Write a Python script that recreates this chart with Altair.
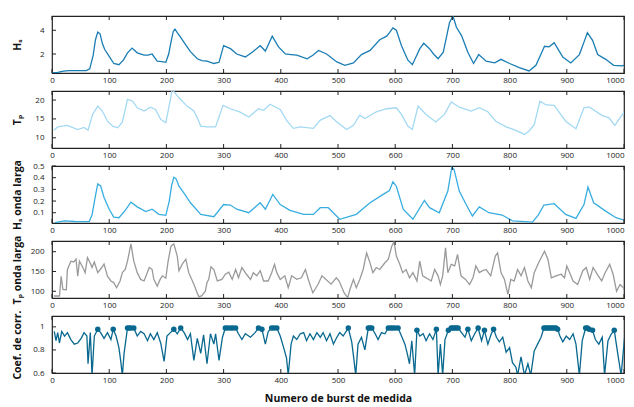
import altair as alt
import pandas as pd

# ---------------- data ----------------
x_ticks = [0, 100, 200, 300, 400, 500, 600, 700, 800, 900, 1000]

hs_x = [0, 10, 20, 30, 40, 50, 60, 66, 72, 76, 80, 84, 88, 92, 100, 108, 117, 125, 132, 140, 149, 161, 168, 175, 184, 192, 199, 204, 208, 212, 215, 219, 225, 232, 242, 254, 262, 271, 283, 292, 300, 312, 323, 338, 350, 364, 373, 385, 396, 408, 418, 428, 446, 456, 466, 480, 498, 512, 527, 541, 556, 573, 585, 590, 596, 602, 611, 622, 630, 643, 650, 660, 667, 675, 684, 690, 695, 701, 707, 716, 727, 737, 746, 759, 774, 785, 800, 817, 834, 846, 855, 861, 869, 878, 886, 893, 907, 922, 930, 936, 945, 954, 968, 982, 997, 1009]
hs_v = [0.4, 0.45, 0.55, 0.6, 0.6, 0.6, 0.6, 0.75, 1.9, 3.2, 3.85, 3.7, 2.9, 2.4, 1.8, 1.2, 1.1, 1.5, 2.1, 2.5, 2.1, 1.9, 1.9, 2.0, 1.4, 1.35, 1.3, 2.0, 3.0, 3.9, 4.1, 3.8, 3.4, 2.9, 2.2, 1.6, 1.45, 1.4, 1.2, 1.3, 2.7, 2.45, 2.0, 1.75, 2.15, 2.7, 2.25, 3.5, 2.6, 2.0, 1.95, 1.9, 1.6, 1.9, 2.3, 2.0, 1.33, 1.05, 1.25, 1.95, 2.3, 3.2, 3.5, 3.8, 4.2, 4.0, 2.7, 1.5, 1.1, 2.45, 2.9, 2.45, 2.0, 1.6, 2.15, 3.5, 4.65, 5.2, 4.25, 3.55, 2.15, 1.2, 1.95, 1.4, 1.25, 1.55, 1.2, 0.85, 0.57, 1.05, 2.0, 2.65, 2.6, 2.95, 2.3, 1.75, 1.25, 1.95, 3.0, 3.8, 3.15, 1.95, 1.55, 1.05, 1.0, 1.2]

tp_x = [3, 5, 10, 27, 45, 56, 63, 71, 80, 88, 97, 106, 115, 123, 132, 141, 149, 161, 172, 181, 190, 199, 207, 210, 222, 236, 248, 254, 260, 271, 286, 299, 312, 329, 344, 361, 370, 381, 399, 411, 422, 434, 457, 469, 486, 498, 515, 527, 538, 547, 567, 585, 602, 611, 622, 630, 640, 654, 671, 686, 698, 712, 733, 747, 762, 776, 794, 811, 826, 834, 843, 853, 864, 878, 898, 916, 930, 939, 962, 974, 984, 1000, 1009]
tp_v = [12.0, 12.2, 12.9, 13.3, 12.2, 12.75, 12.0, 16.2, 18.4, 17.1, 14.4, 13.1, 12.65, 14.2, 20.2, 19.7, 17.96, 17.1, 18.1, 17.5, 14.9, 14.0, 20.2, 22.8, 20.6, 18.4, 17.1, 15.3, 13.1, 12.9, 12.9, 18.6, 17.7, 16.8, 15.5, 17.7, 17.3, 18.9, 17.5, 14.4, 12.5, 12.9, 12.5, 14.7, 15.9, 14.2, 12.2, 13.3, 16.0, 15.1, 16.9, 17.7, 17.96, 16.2, 13.1, 12.2, 18.4, 16.2, 14.2, 16.2, 19.5, 18.1, 17.1, 17.96, 16.9, 14.4, 12.9, 11.96, 10.9, 11.8, 13.5, 19.7, 18.7, 18.6, 14.4, 12.4, 17.96, 18.2, 15.9, 15.3, 13.3, 16.8, 11.3]

hl_x = [5, 22, 40, 65, 70, 75, 80, 85, 91, 100, 108, 117, 128, 138, 149, 164, 175, 187, 199, 205, 209, 213, 217, 222, 232, 242, 260, 283, 300, 312, 323, 344, 364, 373, 386, 399, 416, 440, 457, 469, 483, 503, 532, 556, 579, 590, 596, 602, 614, 631, 651, 660, 677, 692, 699, 703, 712, 724, 735, 747, 764, 787, 805, 840, 850, 860, 878, 898, 916, 930, 937, 947, 968, 986, 1009]
hl_v = [0.015, 0.03, 0.025, 0.024, 0.08, 0.22, 0.347, 0.33, 0.23, 0.13, 0.063, 0.057, 0.12, 0.19, 0.15, 0.11, 0.13, 0.086, 0.078, 0.2, 0.33, 0.404, 0.39, 0.327, 0.26, 0.185, 0.086, 0.066, 0.17, 0.166, 0.13, 0.10, 0.185, 0.13, 0.257, 0.17, 0.12, 0.086, 0.086, 0.143, 0.143, 0.044, 0.086, 0.185, 0.257, 0.29, 0.364, 0.327, 0.13, 0.044, 0.206, 0.143, 0.10, 0.285, 0.49, 0.47, 0.285, 0.17, 0.072, 0.15, 0.10, 0.08, 0.03, 0.02, 0.08, 0.166, 0.177, 0.086, 0.052, 0.17, 0.32, 0.185, 0.114, 0.057, 0.024]

tpl_pairs = [(3, 88), (13, 88), (16, 138), (19, 105), (25, 104), (27, 155), (33, 176), (38, 174), (42, 181), (45, 138), (48, 176), (54, 160), (58, 147), (62, 185), (66, 174), (70, 160), (74, 174), (80, 147), (87, 160), (91, 169), (97, 138), (103, 126), (108, 122), (113, 109), (119, 126), (123, 147), (128, 155), (132, 176), (138, 220), (143, 176), (149, 147), (155, 130), (161, 126), (170, 160), (175, 155), (178, 130), (184, 113), (189, 130), (193, 139), (199, 133), (203, 176), (208, 214), (213, 220), (219, 189), (222, 152), (228, 169), (234, 181), (239, 147), (248, 118), (254, 95), (257, 86), (262, 89), (268, 100), (271, 122), (274, 130), (278, 162), (283, 155), (289, 126), (297, 130), (303, 143), (309, 148), (315, 130), (321, 155), (326, 134), (332, 160), (340, 143), (347, 130), (352, 147), (358, 139), (364, 152), (370, 126), (378, 126), (384, 147), (389, 168), (393, 147), (399, 130), (407, 139), (413, 109), (419, 139), (428, 130), (436, 134), (443, 155), (449, 126), (456, 96), (465, 117), (472, 139), (479, 130), (488, 118), (497, 134), (502, 126), (511, 95), (517, 84), (521, 105), (527, 130), (532, 109), (538, 130), (544, 155), (550, 197), (555, 176), (561, 147), (567, 160), (573, 155), (582, 172), (588, 181), (594, 214), (598, 225), (602, 189), (608, 168), (613, 147), (619, 155), (625, 134), (631, 147), (638, 126), (643, 176), (648, 139), (654, 134), (663, 126), (669, 155), (675, 139), (679, 117), (683, 139), (688, 210), (692, 147), (698, 168), (704, 164), (709, 193), (715, 139), (723, 130), (730, 117), (736, 134), (741, 164), (747, 147), (753, 152), (759, 155), (767, 139), (775, 189), (779, 197), (785, 147), (791, 130), (797, 92), (802, 130), (808, 126), (814, 155), (820, 139), (826, 160), (832, 126), (838, 109), (843, 147), (852, 176), (861, 201), (867, 181), (873, 134), (881, 139), (890, 143), (896, 134), (900, 164), (905, 147), (911, 126), (919, 117), (928, 152), (934, 160), (940, 130), (946, 160), (955, 139), (961, 126), (967, 147), (975, 168), (981, 143), (987, 100), (993, 117), (999, 109), (1004, 92), (1010, 105)]

coef_pairs = [(4, 0.96), (7, 0.88), (10, 0.95), (13, 0.86), (17, 0.96), (22, 0.92), (27, 0.95), (33, 0.89), (39, 0.85), (45, 0.86), (51, 0.90), (56, 0.95), (61, 0.92), (63, 0.68), (67, 0.95), (70, 0.58), (74, 0.92), (80, 0.98), (85, 0.95), (91, 0.90), (97, 0.95), (103, 0.89), (107, 0.98), (112, 0.92), (117, 0.82), (120, 0.71), (123, 0.58), (126, 0.77), (132, 0.99), (135, 0.99), (138, 0.99), (143, 0.99), (149, 0.92), (155, 0.96), (161, 0.94), (167, 0.88), (172, 0.94), (178, 0.89), (184, 0.95), (190, 0.86), (196, 0.70), (201, 0.92), (207, 0.95), (213, 0.98), (219, 0.94), (225, 0.99), (231, 0.95), (237, 0.89), (242, 0.94), (248, 0.71), (254, 0.90), (260, 0.77), (265, 0.93), (271, 0.68), (277, 0.94), (283, 0.85), (286, 0.94), (292, 0.71), (298, 0.91), (303, 0.99), (307, 0.99), (312, 0.99), (316, 0.99), (321, 0.99), (326, 0.94), (332, 0.89), (338, 0.94), (347, 0.91), (355, 0.95), (361, 0.99), (367, 0.98), (373, 0.85), (378, 0.96), (384, 0.99), (388, 0.99), (393, 0.99), (399, 0.92), (405, 0.82), (410, 0.73), (413, 0.58), (418, 0.85), (422, 0.92), (428, 0.89), (434, 0.94), (440, 0.95), (445, 0.88), (451, 0.94), (457, 0.89), (463, 0.95), (469, 0.91), (474, 0.95), (480, 0.88), (486, 0.94), (492, 0.85), (498, 0.91), (503, 0.95), (509, 0.92), (518, 0.99), (524, 0.87), (528, 0.71), (531, 0.58), (535, 0.85), (541, 0.91), (547, 0.80), (553, 0.99), (556, 0.99), (559, 0.99), (565, 0.94), (570, 0.89), (576, 0.95), (582, 0.94), (588, 0.99), (592, 0.99), (596, 0.99), (600, 0.99), (605, 0.99), (611, 0.92), (617, 0.85), (621, 0.77), (625, 0.68), (629, 0.88), (634, 0.58), (638, 0.97), (643, 0.92), (649, 0.94), (654, 0.88), (660, 0.94), (666, 0.89), (672, 0.98), (675, 0.58), (679, 0.85), (683, 0.58), (687, 0.89), (693, 0.97), (698, 0.99), (701, 0.99), (704, 0.99), (707, 0.99), (710, 0.99), (716, 0.95), (722, 0.91), (727, 0.98), (733, 0.88), (739, 0.94), (745, 0.99), (751, 0.88), (756, 0.97), (762, 0.85), (768, 0.94), (772, 0.98), (777, 0.91), (782, 0.87), (788, 0.91), (794, 0.78), (800, 0.82), (805, 0.69), (811, 0.65), (814, 0.58), (820, 0.74), (826, 0.58), (832, 0.68), (837, 0.58), (843, 0.79), (849, 0.85), (855, 0.91), (860, 0.99), (863, 0.99), (866, 0.99), (869, 0.99), (872, 0.99), (875, 0.99), (878, 0.99), (881, 0.99), (884, 0.98), (888, 0.92), (893, 0.87), (899, 0.92), (905, 0.89), (911, 0.94), (916, 0.85), (922, 0.58), (927, 0.88), (933, 0.99), (936, 0.99), (939, 0.98), (945, 0.97), (950, 0.89), (956, 0.85), (962, 0.91), (966, 0.58), (972, 0.88), (978, 0.94), (983, 0.97), (989, 0.77), (995, 0.58), (1001, 0.91), (1006, 0.58), (1010, 0.85)]

titles = ["Hₛ", "Tₚ", "Hₛ onda larga", "Tₚ onda larga", "Coef. de corr."]
x_title = "Numero de burst de medida"

# ---------------- styling ----------------
W, H = 572, 57
X_DOMAIN = [0, 1000]
FONT = "Open Sans"
FRAME = "#222222"


def panel(xv, yv, color, ydom, yticks, title, fmt, last=False, markers=False):
    df = pd.DataFrame({"x": xv, "v": yv})
    xs = alt.Scale(domain=X_DOMAIN, nice=False, zero=False)
    ys = alt.Scale(domain=ydom, nice=False, zero=False)
    xaxis = alt.Axis(values=x_ticks, ticks=False, domain=False, grid=False,
                     labelPadding=3, labelFontSize=8, labelColor="#222",
                     labelFont=FONT, format="d", minExtent=12, maxExtent=12,
                     labelAlign={"expr": "datum.value >= 1000 ? 'right' : 'center'"},
                     title=x_title if last else None, titleFont=FONT,
                     titleFontSize=10.5, titleFontWeight="bold", titleColor="#111",
                     titlePadding=8)
    yaxis = alt.Axis(values=yticks, ticks=False, domain=False, grid=False,
                     labelPadding=8, labelFontSize=8, labelColor="#222",
                     labelFont=FONT, format=fmt, minExtent=22, maxExtent=22,
                     title=title, titleFont=FONT, titleFontSize=10.5,
                     titleFontWeight="bold", titleColor="#111", titlePadding=8)
    X = lambda f: alt.X(f, scale=xs, axis=xaxis)
    Y = lambda f: alt.Y(f, scale=ys, axis=yaxis)
    line = alt.Chart(df).mark_line(color=color, strokeWidth=1.3, clip=True).encode(
        x=X("x:Q"), y=Y("v:Q"))
    layers = [line]
    if markers:
        pts = alt.Chart(df).transform_filter("datum.v >= 0.97").mark_circle(
            color=color, size=30, opacity=1, clip=True).encode(x=X("x:Q"), y=Y("v:Q"))
        layers.append(pts)
    xt = alt.Chart(pd.DataFrame({"t": x_ticks}))
    layers.append(xt.mark_rule(color=FRAME, strokeWidth=1).encode(
        x=X("t:Q"), y=alt.value(0), y2=alt.value(4)))
    layers.append(xt.mark_rule(color=FRAME, strokeWidth=1).encode(
        x=X("t:Q"), y=alt.value(H), y2=alt.value(H - 4)))
    yt = alt.Chart(pd.DataFrame({"t": yticks}))
    layers.append(yt.mark_rule(color=FRAME, strokeWidth=1).encode(
        y=Y("t:Q"), x=alt.value(0), x2=alt.value(4)))
    return alt.layer(*layers).properties(width=W, height=H)


p1 = panel(hs_x, hs_v, "#1a7db3", [0.4, 5.2], [2, 4], titles[0], "d")
p2 = panel(tp_x, tp_v, "#a3d9f3", [7.3, 22.4], [10, 15, 20], titles[1], "d")
p3 = panel(hl_x, hl_v, "#38ade0", [0.012, 0.5], [0.1, 0.2, 0.3, 0.4, 0.5], titles[2], ".1f")
p4 = panel([p[0] for p in tpl_pairs], [p[1] for p in tpl_pairs], "#9a9a9a",
           [83, 227], [100, 150, 200], titles[3], "d")
p5 = panel([p[0] for p in coef_pairs], [p[1] for p in coef_pairs], "#08688f",
           [0.6, 1.094], [0.6, 0.8, 1.0], titles[4], "", last=True, markers=True)

chart = alt.vconcat(p1, p2, p3, p4, p5, spacing=18, bounds="flush").properties(
    padding={"left": 3, "top": 6, "right": 0, "bottom": 0}
).configure_view(stroke=FRAME, strokeWidth=1.2)

chart.save("out.html", embed_options={"renderer": "svg", "actions": False})
